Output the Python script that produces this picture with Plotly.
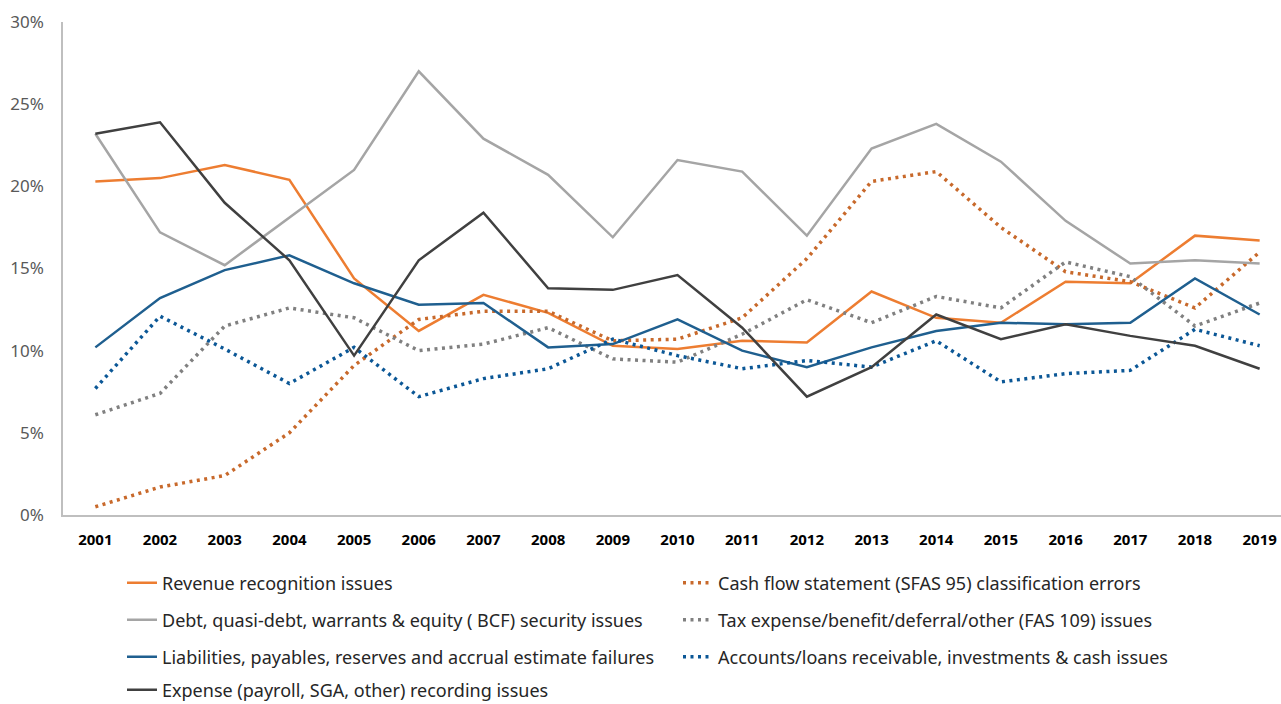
import plotly.graph_objects as go

years = [str(y) for y in range(2001, 2020)]

revenue = [20.3, 20.5, 21.3, 20.4, 14.4, 11.2, 13.4, 12.3, 10.3, 10.1, 10.6, 10.5, 13.6, 12.0, 11.7, 14.2, 14.1, 17.0, 16.7]
cashflow = [0.5, 1.7, 2.4, 5.0, 9.1, 11.9, 12.4, 12.4, 10.6, 10.7, 12.0, 15.6, 20.3, 20.9, 17.5, 14.8, 14.2, 12.6, 16.0]
debt = [23.2, 17.2, 15.2, 18.1, 21.0, 27.0, 22.9, 20.7, 16.9, 21.6, 20.9, 17.0, 22.3, 23.8, 21.5, 17.9, 15.3, 15.5, 15.3]
tax = [6.1, 7.4, 11.5, 12.6, 12.0, 10.0, 10.4, 11.4, 9.5, 9.3, 11.0, 13.1, 11.7, 13.3, 12.6, 15.4, 14.5, 11.5, 12.9]
liabilities = [10.2, 13.2, 14.9, 15.8, 14.1, 12.8, 12.9, 10.2, 10.4, 11.9, 10.0, 9.0, 10.2, 11.2, 11.7, 11.6, 11.7, 14.4, 12.2]
receivable = [7.7, 12.1, 10.1, 8.0, 10.2, 7.2, 8.3, 8.9, 10.7, 9.7, 8.9, 9.4, 9.0, 10.6, 8.1, 8.6, 8.8, 11.3, 10.3]
expense = [23.2, 23.9, 19.0, 15.5, 9.7, 15.5, 18.4, 13.8, 13.7, 14.6, 11.4, 7.2, 9.0, 12.2, 10.7, 11.6, 10.9, 10.3, 8.9]

names = [
    "Revenue recognition issues",
    "Cash flow statement (SFAS 95) classification errors",
    "Debt, quasi-debt, warrants & equity ( BCF) security issues",
    "Tax expense/benefit/deferral/other (FAS 109) issues",
    "Liabilities, payables, reserves and accrual estimate failures",
    "Accounts/loans receivable, investments & cash issues",
    "Expense (payroll, SGA, other) recording issues",
]
y_ticks = [0, 5, 10, 15, 20, 25, 30]
y_tick_text = ["0%", "5%", "10%", "15%", "20%", "25%", "30%"]

series = [revenue, cashflow, debt, tax, liabilities, receivable, expense]
colors = ["#ED7D31", "#C8692B", "#A5A5A5", "#808080", "#1F5F8F", "#0B5796", "#404040"]
dashes = ["solid", "3px,4.5px", "solid", "3px,4.5px", "solid", "3px,4.5px", "solid"]
widths = [2.5, 3.5, 2.5, 3.5, 2.5, 3.5, 2.5]
legends = ["legend", "legend", "legend2", "legend2", "legend3", "legend3", "legend4"]

fig = go.Figure()
for s, n, c, d, w, lg in zip(series, names, colors, dashes, widths, legends):
    fig.add_trace(go.Scatter(
        x=list(range(len(years))), y=s, name=n, mode="lines",
        line=dict(color=c, dash=d, width=w), legend=lg,
    ))

font_fam = "Noto Sans, Open Sans, sans-serif"
leg_common = dict(
    orientation="h", xref="container", yref="container",
    x=122 / 1281, xanchor="left", yanchor="middle",
    entrywidth=511, entrywidthmode="pixels",
    font=dict(family=font_fam, size=18, color="#262626"),
    bgcolor="rgba(0,0,0,0)", traceorder="normal",
)
row_y = [583, 620, 657, 690]

fig.update_layout(
    width=1281, height=704,
    margin=dict(l=63, r=0, t=22, b=189),
    paper_bgcolor="white", plot_bgcolor="white",
    showlegend=True,
    legend=dict(leg_common, y=1 - row_y[0] / 704),
    legend2=dict(leg_common, y=1 - row_y[1] / 704),
    legend3=dict(leg_common, y=1 - row_y[2] / 704),
    legend4=dict(leg_common, y=1 - row_y[3] / 704),
    xaxis=dict(
        range=[-0.5, 18.33], tickmode="array",
        tickvals=list(range(len(years))), ticktext=years,
        showgrid=False, zeroline=False, showline=True,
        linecolor="#BFBFBF", linewidth=1.5, ticks="",
        tickfont=dict(family=font_fam, size=15, color="#000000", weight="bold"),
        ticklabelstandoff=10,
    ),
    yaxis=dict(
        range=[0, 30], tickmode="array", tickvals=y_ticks, ticktext=y_tick_text,
        showgrid=False, zeroline=False, showline=True,
        linecolor="#BFBFBF", linewidth=1.5, ticks="",
        tickfont=dict(family=font_fam, size=17, color="#595959"),
        ticklabelstandoff=14,
    ),
)

fig.write_html("out.html")
